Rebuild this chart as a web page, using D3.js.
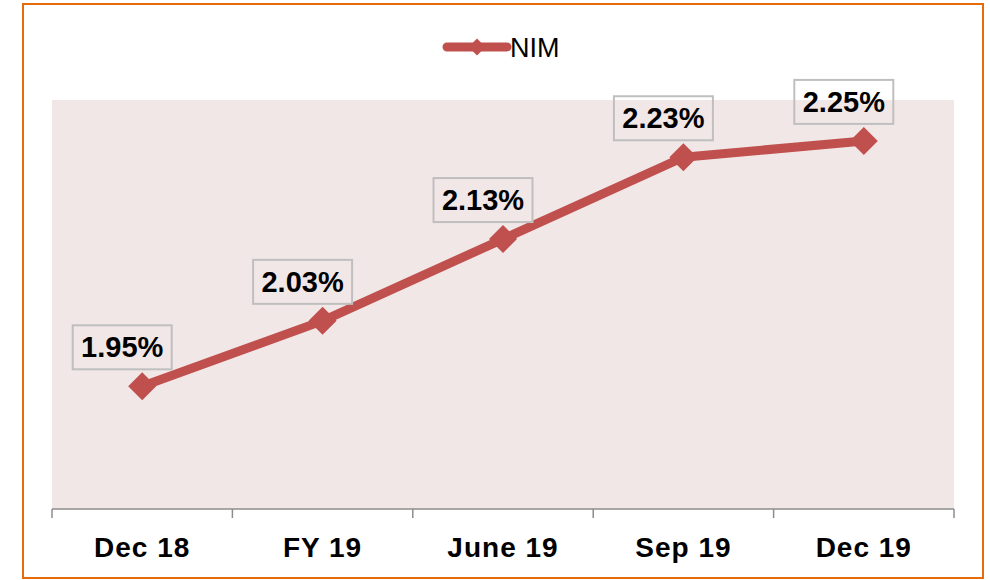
<!DOCTYPE html>
<html>
<head>
<meta charset="utf-8">
<script src="https://cdn.jsdelivr.net/npm/d3@7"></script>
<style>
  body { margin: 0; background: #fff; }
  svg { display: block; }
</style>
</head>
<body>
<svg id="chart"></svg>
<script>
// Data
const categories = ['Dec 18', 'FY 19', 'June 19', 'Sep 19', 'Dec 19'];
const nimValues = [1.95, 2.03, 2.13, 2.23, 2.25];
const seriesName = 'NIM';
const yDomain = [1.8, 2.3];

const W = 990, H = 580;
const plot = { left: 52, right: 954, top: 100, bottom: 509 };
const red = '#C0504D';

const svg = d3.select('svg#chart')
    .attr('width', W)
    .attr('height', H);

// Orange outer frame
svg.append('rect')
    .attr('x', 23)
    .attr('y', 4)
    .attr('width', 960)
    .attr('height', 574)
    .attr('fill', '#fff')
    .attr('stroke', '#E46C0A')
    .attr('stroke-width', 2);

// Scales
const xScale = d3.scaleBand()
    .domain(categories)
    .range([plot.left, plot.right])
    .padding(0);

const yScale = d3.scaleLinear()
    .domain(yDomain)
    .range([plot.bottom, plot.top]);

// Plot area background
svg.append('rect')
    .attr('x', plot.left)
    .attr('y', plot.top)
    .attr('width', plot.right - plot.left)
    .attr('height', plot.bottom - plot.top)
    .attr('fill', '#F2E7E7');

// X axis with tick marks on category boundaries
const xAxisG = svg.append('g')
    .attr('transform', `translate(0, ${plot.bottom})`);

xAxisG.append('line')
    .attr('x1', plot.left)
    .attr('x2', plot.right)
    .attr('stroke', '#8C8C8C')
    .attr('stroke-width', 1.5);

const boundaries = categories.map(c => xScale(c)).concat([plot.right]);
xAxisG.selectAll('line.tick')
    .data(boundaries)
    .enter()
    .append('line')
    .attr('class', 'tick')
    .attr('x1', d => d)
    .attr('x2', d => d)
    .attr('y1', 0)
    .attr('y2', 9)
    .attr('stroke', '#8C8C8C')
    .attr('stroke-width', 1.5);

xAxisG.selectAll('text')
    .data(categories)
    .enter()
    .append('text')
    .attr('x', d => xScale(d) + xScale.bandwidth() / 2)
    .attr('y', 48)
    .attr('text-anchor', 'middle')
    .style('font-family', '"Liberation Sans", Arial, sans-serif')
    .style('font-weight', 'bold')
    .style('font-size', '28px')
    .style('letter-spacing', '1px')
    .attr('fill', '#000')
    .text(d => d);

// Line
const points = categories.map((c, i) => ({
    x: xScale(c) + xScale.bandwidth() / 2,
    y: yScale(nimValues[i]),
    v: nimValues[i]
}));

const line = d3.line()
    .x(d => d.x)
    .y(d => d.y);

svg.append('path')
    .datum(points)
    .attr('d', line)
    .attr('fill', 'none')
    .attr('stroke', red)
    .attr('stroke-width', 9)
    .attr('stroke-linejoin', 'round');

// Diamond markers
const diamond = d3.symbol().type(d3.symbolDiamond2).size(500);
svg.selectAll('path.marker')
    .data(points)
    .enter()
    .append('path')
    .attr('class', 'marker')
    .attr('d', diamond)
    .attr('transform', d => `translate(${d.x}, ${d.y})`)
    .attr('fill', red);

// Data labels in boxes
const labels = svg.selectAll('g.label')
    .data(points)
    .enter()
    .append('g')
    .attr('class', 'label')
    .attr('transform', d => `translate(${d.x - 20}, ${d.y - 39})`);

labels.append('rect')
    .attr('x', -49.5)
    .attr('y', -22)
    .attr('width', 99)
    .attr('height', 44)
    .attr('fill', 'none')
    .attr('stroke', '#BFBFBF')
    .attr('stroke-width', 2);

labels.append('text')
    .attr('y', 10)
    .attr('text-anchor', 'middle')
    .style('font-family', '"Liberation Sans", Arial, sans-serif')
    .style('font-weight', 'bold')
    .style('font-size', '29px')
    .attr('fill', '#000')
    .text(d => d.v.toFixed(2) + '%');

// Legend
const legend = svg.append('g')
    .attr('transform', 'translate(447, 47)');

legend.append('line')
    .attr('x1', 0)
    .attr('x2', 60)
    .attr('stroke', red)
    .attr('stroke-width', 9)
    .attr('stroke-linecap', 'round');

legend.append('path')
    .attr('d', diamond)
    .attr('transform', 'translate(30, 0) scale(0.6)')
    .attr('fill', red);

legend.append('text')
    .attr('x', 63)
    .attr('y', 10)
    .style('font-family', '"Liberation Sans", Arial, sans-serif')
    .style('font-size', '27px')
    .attr('fill', '#000')
    .text(seriesName);
</script>
</body>
</html>
